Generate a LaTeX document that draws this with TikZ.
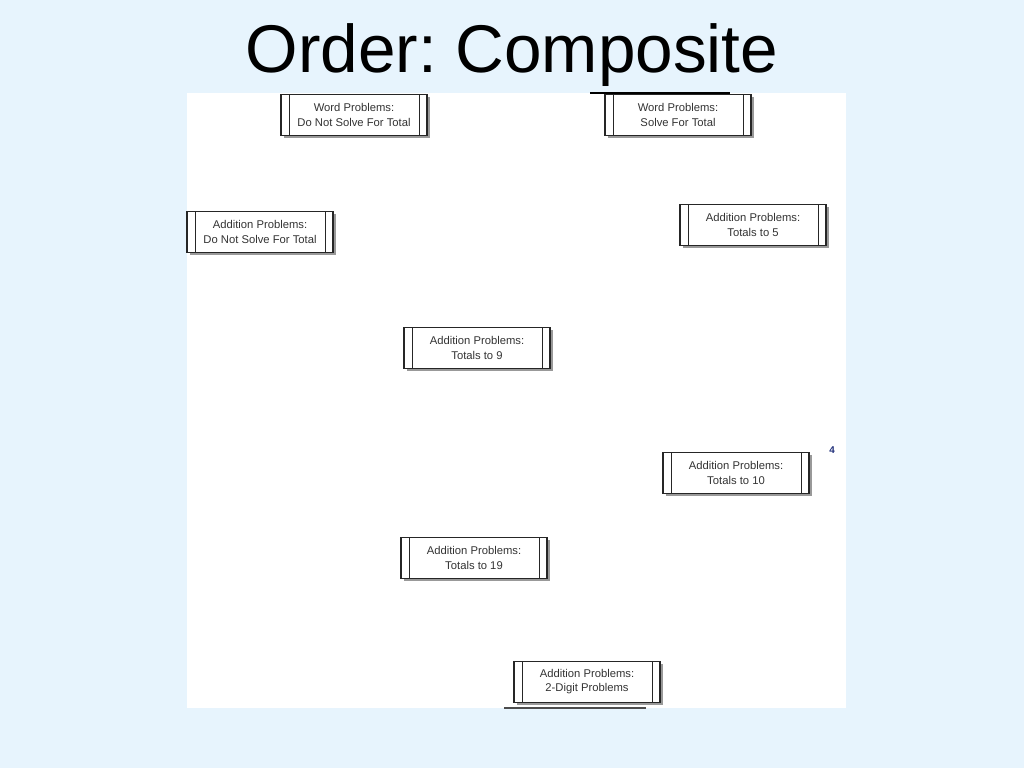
\documentclass[tikz,border=0pt]{standalone}
\usepackage{fontspec}
\setmainfont{Liberation Sans}
\usetikzlibrary{shadows}
\frenchspacing

\definecolor{bgblue}{RGB}{231,244,253}
\definecolor{pagenum}{RGB}{30,45,120}

\begin{document}
\begin{tikzpicture}[y=-0.025cm, x=0.025cm,
  procbox/.style={draw=black!85, line width=0.8pt, fill=white,
    minimum width=3.65cm, minimum height=1.03cm, inner sep=0pt, align=center,
    font=\fontsize{8}{10}\selectfont, text=black!80,
    drop shadow={opacity=1, fill=black!40, shadow xshift=0.07cm, shadow yshift=-0.07cm},
    path picture={
      \draw[black!85, line width=0.6pt] ([xshift=0.2cm]path picture bounding box.north west) -- ([xshift=0.2cm]path picture bounding box.south west);
      \draw[black!85, line width=0.6pt] ([xshift=-0.2cm]path picture bounding box.north east) -- ([xshift=-0.2cm]path picture bounding box.south east);
    }}]

% background and panel
\fill[bgblue] (0,0) rectangle (1024,768);
\useasboundingbox (0,0) rectangle (1024,768);
\fill[white] (187,93) rectangle (846,708);

% title
\node[anchor=base, font=\fontsize{48}{58}\selectfont] (title) at (512,73) {Order: Composite};

% boxes
\node[procbox] (wpdn) at (354,115) {Word Problems:\\Do Not Solve For Total};
\node[procbox] (wps) at (678,115) {Word Problems:\\Solve For Total};
\node[procbox] (apdn) at (260,232) {Addition Problems:\\Do Not Solve For Total};
\node[procbox] (apfive) at (753,225) {Addition Problems:\\Totals to 5};
\node[procbox] (apnine) at (477,348) {Addition Problems:\\Totals to 9};
\node[procbox] (apten) at (736,473) {Addition Problems:\\Totals to 10};
\node[procbox] (apnineteen) at (474,558) {Addition Problems:\\Totals to 19};
\node[procbox] (aptwodigit) at (587,682) {Addition Problems:\\2-Digit Problems};

% stray lines
\coordinate (topa) at (590,93);
\coordinate (topb) at (730,93);
\draw[line width=1.2pt] (topa) -- (topb);
\coordinate (bota) at (504,708);
\coordinate (botb) at (646,708);
\draw[black!70, line width=1.2pt] (bota) -- (botb);

% page number
\node[text=pagenum, font=\fontsize{7}{8}\selectfont\bfseries] (pnum) at (832,450) {4};

\end{tikzpicture}
\end{document}
